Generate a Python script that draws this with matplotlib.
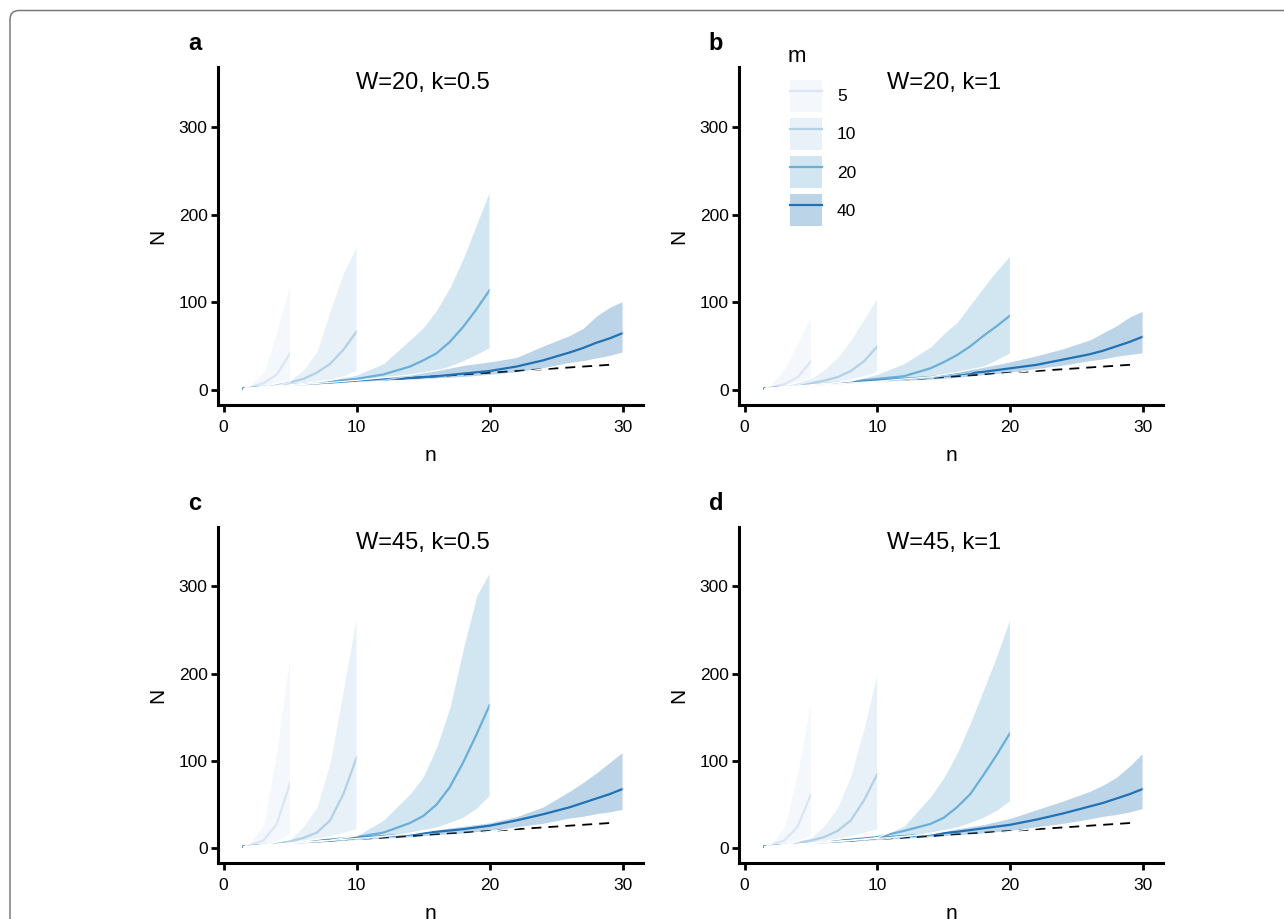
import numpy as np
import matplotlib
matplotlib.use('Agg')
import matplotlib.pyplot as plt
from matplotlib.patches import Patch, FancyBboxPatch
from matplotlib.lines import Line2D
from matplotlib.legend_handler import HandlerTuple
from matplotlib.transforms import IdentityTransform
from matplotlib.colors import to_rgba

plt.rcParams['font.family'] = ['Liberation Sans', 'DejaVu Sans']

# group sizes m and their colours
m_values = [5, 10, 20, 40]
m_colors = ['#dce5f6', '#b3d1e6', '#6baed6', '#2171b5']

# n grids for each m
n5 = [1.5, 2, 3, 4, 5]
n10 = [1.5, 3, 5, 6, 7, 8, 9, 10]
n20 = [1.5, 5, 8, 10, 12, 14, 15, 16, 17, 18, 19, 20]
n40 = [1.5, 5, 10, 14, 16, 18, 20, 22, 24, 26, 27, 28, 29, 30]

# reference line N = n
ref_n = [1.5, 29.5]
ref_N = [1.5, 29.5]

# each entry: [lower, median, upper]
# a: W=20, k=0.5
a5 = [[1.5, 2, 3.5, 6, 10], [2, 3.5, 8, 18, 42], [2.5, 6, 21, 68, 124]]
a10 = [[1.5, 3, 6, 7.5, 9.5, 12, 16, 22], [2, 4, 9, 13, 20, 30, 46, 67],
       [2.5, 5, 12, 24, 45, 92, 135, 165]]
a20 = [[1.5, 5, 7, 9.5, 12, 17, 19, 22, 27, 33, 40, 48],
       [2, 6, 10, 13, 18, 27, 34, 42, 55, 72, 92, 114],
       [2.5, 7, 12, 18, 31, 58, 72, 92, 118, 151, 190, 228]]
a40 = [[1.5, 4.5, 9.5, 12, 13.5, 15, 17.5, 20.5, 25, 31, 33, 36, 39, 43],
       [2, 5.5, 11, 14, 16, 19, 22, 27, 34, 43, 48, 54, 59, 65],
       [2.5, 6, 12, 18, 23, 29, 33, 38, 51, 63, 71, 85, 95, 102]]
# b: W=20, k=1
b5 = [[1.5, 2, 4, 7, 11], [2, 3, 7, 15, 33], [2.5, 7, 25, 55, 86]]
b10 = [[1.5, 3, 6, 7.5, 9.5, 12.5, 16, 21], [2, 4, 8, 11, 15, 22, 33, 50],
       [2.5, 5, 14, 24, 38, 58, 82, 107]]
b20 = [[1.5, 5, 7, 10, 12, 15, 17, 19, 21, 27, 34, 42],
       [2, 6, 10, 13, 16, 25, 32, 40, 50, 62, 73, 85],
       [2.5, 7, 11, 19, 31, 50, 65, 78, 98, 118, 137, 154]]
b40 = [[1.5, 4.5, 9.5, 12, 14, 17, 20, 24, 28, 33, 35, 38, 40, 42],
       [2, 5.5, 11, 15, 18, 21, 25, 29, 35, 41, 45, 50, 55, 61],
       [2.5, 6, 11, 16, 21, 27, 33, 40, 48, 58, 66, 74, 84, 91]]
# c: W=45, k=0.5
c5 = [[1.5, 2, 4, 8, 17], [2, 4, 9, 28, 75], [2.5, 7, 28, 115, 227]]
c10 = [[1.5, 3, 7, 9, 11, 14, 18, 22], [2, 4, 8, 12, 18, 32, 62, 104],
       [2.5, 5, 11, 26, 48, 100, 185, 269]]
c20 = [[1.5, 5, 7, 10.5, 14, 18, 21, 24, 29, 35, 45, 60],
       [2, 6, 10, 13, 18, 29, 37, 50, 70, 98, 130, 164],
       [2.5, 7, 10, 15, 33, 63, 83, 117, 163, 230, 290, 317]]
c40 = [[1.5, 4.5, 9.5, 12.5, 15, 17, 20, 24, 28, 34, 36, 39, 41, 44],
       [2, 5.5, 12, 16, 19, 22, 26, 32, 39, 47, 52, 57, 62, 68],
       [2.5, 6, 12, 17, 22, 26, 30, 37, 48, 66, 76, 87, 99, 111]]
# d: W=45, k=1
d5 = [[1.5, 2, 4, 8, 15], [2, 4, 9, 25, 62], [2.5, 6, 25, 90, 172]]
d10 = [[1.5, 3, 7, 9, 11, 14, 18, 22], [2, 4, 9, 13, 20, 32, 55, 85],
       [2.5, 5, 13, 27, 48, 85, 140, 204]]
d20 = [[1.5, 5, 7, 10.5, 14, 18, 21, 24, 29, 35, 43, 54],
       [2, 6, 10, 13, 20, 28, 35, 47, 62, 84, 107, 132],
       [2.5, 7, 10, 13, 26, 60, 82, 110, 145, 183, 222, 265]]
d40 = [[1.5, 4.5, 9.5, 12.5, 15, 17, 20, 24, 28, 33, 36, 38, 41, 45],
       [2, 5.5, 12, 16, 19, 23, 27, 33, 40, 48, 52, 57, 62, 68],
       [2.5, 6, 12, 17, 23, 28, 35, 45, 55, 66, 73, 82, 95, 110]]

panel_tags = ['a', 'b', 'c', 'd']
panel_titles = ['W=20, k=0.5', 'W=20, k=1', 'W=45, k=0.5', 'W=45, k=1']
panel_data = [[a5, a10, a20, a40], [b5, b10, b20, b40],
              [c5, c10, c20, c40], [d5, d10, d20, d40]]
n_grids = [n5, n10, n20, n40]

W, H = 1284, 919
fig = plt.figure(figsize=(W / 100, H / 100), dpi=100)

# rounded frame around the figure
frame = FancyBboxPatch((10, -60), 1400, H - 10.5 + 60, boxstyle='round,pad=0,rounding_size=9',
                       transform=IdentityTransform(), facecolor='none',
                       edgecolor='#7a7a7a', lw=1.1)
fig.patches.append(frame)

boxes = [(218, 67, 643, 405), (739, 67, 1163, 405),
         (218, 527, 643, 863), (739, 527, 1163, 863)]

axes = []
for i, (x0, y0, x1, y1) in enumerate(boxes):
    ax = fig.add_axes([x0 / W, 1 - y1 / H, (x1 - x0) / W, (y1 - y0) / H])
    axes.append(ax)
    ax.plot(ref_n, ref_N, color='black', lw=1.3, dashes=(5.5, 3.9), zorder=1)
    # medians sit under the translucent ribbons
    for j, m in enumerate(m_values):
        ax.plot(n_grids[j], panel_data[i][j][1], color=m_colors[j], lw=1.6, zorder=2)
    for j, m in enumerate(m_values):
        lo, med, hi = panel_data[i][j]
        ax.fill_between(n_grids[j], lo, hi, facecolor=to_rgba(m_colors[j], 0.3),
                        edgecolor='white', lw=0.9, zorder=3 + j)
    ax.set_xlim(-0.42, 31.53)
    ax.set_ylim(-16.7, 367.8)
    ax.set_xticks([0, 10, 20, 30])
    ax.set_yticks([0, 100, 200, 300])
    for s in ['top', 'right']:
        ax.spines[s].set_visible(False)
    for s in ['left', 'bottom']:
        ax.spines[s].set_linewidth(2.2)
    ax.tick_params(width=2.0, length=5, labelsize=12.5, colors='black')
    ax.tick_params(axis='x', pad=5.5)
    ax.tick_params(axis='y', pad=2.5)
    ax.set_xlabel('n', fontsize=15, labelpad=8.5)
    ax.set_ylabel('N', fontsize=15, labelpad=8)
    ax.text(15, 350, panel_titles[i], ha='center', va='center', fontsize=17)
    fig.text((x0 - 23) / W, 1 - (y0 - 24) / H, panel_tags[i], fontsize=17,
             fontweight='bold', ha='center', va='center')

# legend for m in panel b
handles = [(Patch(facecolor=to_rgba(c, 0.3), edgecolor='none'),
            Line2D([], [], color=c, lw=1.6)) for c in m_colors]
axb = axes[1]
axb.legend(handles, [str(m) for m in m_values], loc='upper left',
           bbox_to_anchor=((790 - 739) / 424, 1 - (80 - 67) / 338),
           frameon=False, borderpad=0, borderaxespad=0, fontsize=12.5,
           handlelength=1.84, handleheight=2.45, labelspacing=0.36,
           handletextpad=0.86, handler_map={tuple: HandlerTuple(ndivide=1, pad=0)})
fig.text(788 / W, 1 - 56 / H, 'm', fontsize=16, ha='left', va='center')

fig.savefig('out.png', dpi=100)
